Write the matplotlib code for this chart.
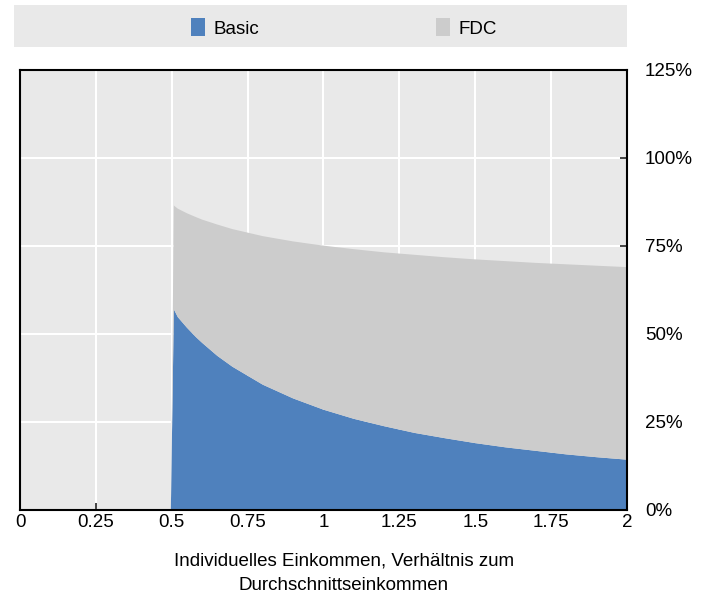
import numpy as np
import matplotlib.pyplot as plt
from matplotlib.patches import Rectangle, Patch

plt.rcParams['font.family'] = ['Liberation Sans', 'DejaVu Sans']

# values (share of average earnings, %)
income = [0.497, 0.507, 0.52, 0.55, 0.58, 0.6, 0.65, 0.7, 0.8, 0.9, 1.0, 1.1,
          1.2, 1.3, 1.4, 1.5, 1.6, 1.7, 1.8, 1.9, 2.0]
basic = [0, 57.0, 54.8, 51.8, 49.1, 47.5, 43.8, 40.7, 35.6, 31.7, 28.5, 25.9,
         23.8, 21.9, 20.4, 19.0, 17.8, 16.8, 15.8, 15.0, 14.3]
total = [0, 86.5, 85.6, 84.3, 83.2, 82.5, 81.1, 79.8, 77.8, 76.3, 75.1, 74.1,
         73.2, 72.5, 71.8, 71.2, 70.7, 70.2, 69.8, 69.4, 69.0]
fdc = [t - b for t, b in zip(total, basic)]

xticks = [0, 0.25, 0.5, 0.75, 1, 1.25, 1.5, 1.75, 2]
xticklabels = ['0', '0.25', '0.5', '0.75', '1', '1.25', '1.5', '1.75', '2']
yticks = [0, 25, 50, 75, 100, 125]

blue = '#4f81bd'
grey = '#cccccc'
bg = '#e9e9e9'
fs = 13.5

fig = plt.figure(figsize=(7.12, 5.97), dpi=100)
ax = fig.add_axes([20 / 712, 87 / 597, 607 / 712, 440 / 597])
ax.set_facecolor(bg)

ax.stackplot(income, basic, fdc, colors=[blue, grey], linewidth=0)

ax.set_xlim(0, 2)
ax.set_ylim(0, 125)
ax.set_xticks(xticks)
ax.set_xticklabels(xticklabels)
ax.set_yticks(yticks)
ax.set_yticklabels([f'{v}%' for v in yticks])
ax.yaxis.tick_right()
ax.grid(True, color='white', linewidth=1.5)
ax.set_axisbelow(True)
ax.tick_params(axis='both', direction='in', length=5, width=1.2,
               labelsize=fs, color='#222222')
ax.tick_params(axis='x', pad=3)
ax.tick_params(axis='y', pad=13, right=True, left=False)
for s in ax.spines.values():
    s.set_linewidth(1.5)
    s.set_color('black')

ax.set_xlabel('Individuelles Einkommen, Verhältnis zum\nDurchschnittseinkommen',
              fontsize=fs, linespacing=1.55)
ax.xaxis.set_label_coords(324 / 607, -43 / 440)

# legend band
fig.patches.append(Rectangle((14 / 712, 1 - 47 / 597), 613 / 712, 42 / 597,
                             transform=fig.transFigure, facecolor=bg,
                             edgecolor='none', zorder=0))
handles = [Patch(facecolor=blue), Patch(facecolor=grey)]
fig.legend(handles, ['Basic', 'FDC'], ncol=2, frameon=False, fontsize=fs,
           loc='center', bbox_to_anchor=(344 / 712, 1 - 28 / 597),
           handlelength=0.75, handleheight=1.07, handletextpad=0.45,
           columnspacing=9.4)

fig.savefig('out.png', dpi=100)
